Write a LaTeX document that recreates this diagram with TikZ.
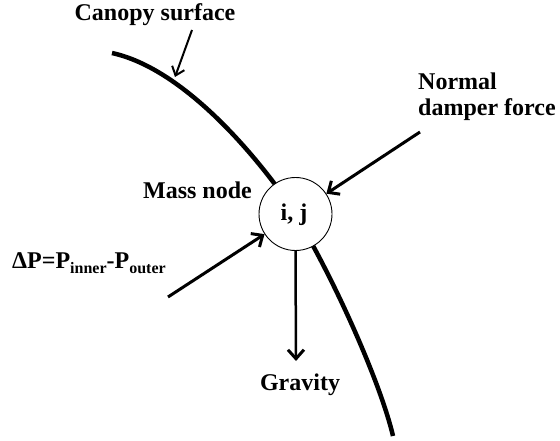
\documentclass[tikz,border=0pt]{standalone}
\usepackage{fontspec}
\setmainfont{Liberation Serif}
\usetikzlibrary{arrows.meta}
\begin{document}
\begin{tikzpicture}[x=1pt,y=-1pt,
  lbl/.style={inner sep=0pt,font=\fontsize{24}{26}\selectfont\bfseries},
  force/.style={line width=3pt,-{Straight Barb[length=9pt,width=16pt,line width=3pt]}},
  pointer/.style={line width=2pt,-{Straight Barb[length=8pt,width=13pt,line width=2pt]}},
  canopy/.style={line width=4.5pt},
  massnode/.style={circle,draw,line width=0.9pt,fill=white,minimum size=73pt,inner sep=0pt}]
\useasboundingbox (0,0) rectangle (560,441);
% canopy surface curve
\coordinate (c0) at (112,53);
\coordinate (c1) at (274,183);
\coordinate (c2) at (393,436);
\draw[canopy] (c0) .. controls (167,65) and (226,120) .. (c1)
                   .. controls (314,235) and (378,372) .. (c2);
% mass node
\node[massnode] (m) at (295.5,214) {};
\node[lbl,anchor=base] (ij) at (294,220) {i, j};
% labels
\node[lbl,anchor=base] (canlbl) at (155,21) {Canopy surface};
\node[lbl,anchor=base east] (masslbl) at (252,199) {Mass node};
\node[lbl,anchor=base west] (norm1) at (418,90) {Normal};
\node[lbl,anchor=base west] (norm2) at (418,116) {damper force};
\node[lbl,anchor=base west] (dp) at (12,269) {ΔP=P\raisebox{-5pt}{\fontsize{16}{16}\selectfont inner}-P\raisebox{-5pt}{\fontsize{16}{16}\selectfont outer}};
\node[lbl,anchor=base] (grav) at (300,390) {Gravity};
% connectors
\coordinate (cp1) at (192,30);
\coordinate (cp2) at (175,77);
\draw[pointer] (cp1) -- (cp2);
\coordinate (nd) at (420,132);
\draw[force] (nd) -- (m);
\coordinate (dps) at (168,297);
\draw[force] (dps) -- (m);
\coordinate (gend) at (296,361);
\draw[force,line width=2.5pt] (m.south) -- (gend);
\end{tikzpicture}
\end{document}
